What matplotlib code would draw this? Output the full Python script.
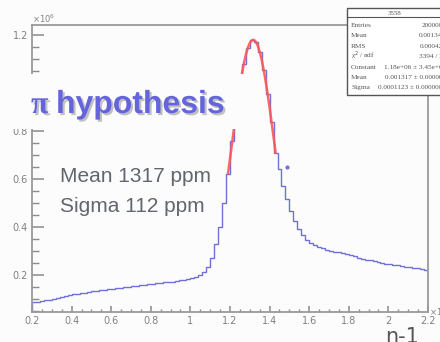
import numpy as np
import matplotlib
matplotlib.use("Agg")
import matplotlib.pyplot as plt
from matplotlib.patches import Rectangle
from matplotlib.lines import Line2D
import matplotlib.patheffects as pe

W, H = 440, 342

# histogram of n-1 (x in units of 1e-3, counts in units of 1e6), bin width 0.02
bin_lo, bin_hi = 0.2, 2.2
counts = [
    0.086, 0.089, 0.092, 0.095, 0.098, 0.101, 0.106, 0.110, 0.113, 0.116,
    0.119, 0.121, 0.124, 0.127, 0.130, 0.132, 0.135, 0.137, 0.139, 0.141,
    0.143, 0.145, 0.147, 0.149, 0.151, 0.153, 0.155, 0.157, 0.159, 0.161,
    0.163, 0.165, 0.167, 0.169, 0.171, 0.173, 0.175, 0.178, 0.181, 0.184,
    0.188, 0.193, 0.200, 0.212, 0.232, 0.270, 0.330, 0.400, 0.500, 0.620,
    0.760, 0.870, 0.985, 1.080, 1.145, 1.180, 1.172, 1.130, 1.056, 0.955,
    0.838, 0.710, 0.640, 0.570, 0.515, 0.465, 0.425, 0.390, 0.365, 0.348,
    0.335, 0.326, 0.318, 0.311, 0.306, 0.302, 0.298, 0.294, 0.290, 0.286,
    0.282, 0.278, 0.272, 0.268, 0.264, 0.261, 0.258, 0.254, 0.250, 0.247,
    0.244, 0.242, 0.240, 0.237, 0.235, 0.233, 0.231, 0.228, 0.225, 0.222,
]

# gaussian fit (from stats box)
fit_const = 1.18
fit_mean = 1.317
fit_sigma = 0.1123
fit_range = (1.19, 1.43)

stray_x, stray_y = [1.488], [0.65]

stat_title = "3558"
stat_names = ["Entries", "Mean", "RMS", "\u03c7$^2$ / ndf", "Constant", "Mean", "Sigma"]
stat_values = ["2000000", "0.001345", "0.000427", "3394 / 23",
               "1.18e+06 \u00b1 3.45e+03", "0.001317 \u00b1 0.000000",
               "0.0001123 \u00b1 0.0000000"]

BLUE = "#7070d8"
RED = "#ff5555"
GRAY = "#8a8a8a"


def fx(px):
    return px / W


def fy(py):
    return 1 - py / H


fig = plt.figure(figsize=(4.4, 3.42), dpi=100)
fig.patch.set_facecolor("#fcfcfc")
ax = fig.add_axes([fx(32), fy(312), fx(428) - fx(32), fy(25) - fy(312)])
ax.set_facecolor("#fcfcfc")

edges = np.linspace(bin_lo, bin_hi, len(counts) + 1)
ax.stairs(counts, edges, color=BLUE, linewidth=1.0)

xf = np.linspace(fit_range[0], fit_range[1], 200)
ax.plot(xf, fit_const * np.exp(-0.5 * ((xf - fit_mean) / fit_sigma) ** 2),
        color=RED, linewidth=1.8, alpha=0.9)
ax.plot(stray_x, stray_y, "o", color=BLUE, markersize=2)

ax.set_xlim(0.2, 2.2)
ax.set_ylim(0.046, 1.242)
ax.set_xticks(np.arange(0.2, 2.21, 0.2))
ax.set_xticklabels(["0.2", "0.4", "0.6", "0.8", "1", "1.2", "1.4", "1.6", "1.8", "2", "2.2"])
ax.set_xticks(np.arange(0.2, 2.21, 0.05), minor=True)
ax.set_yticks([0.2, 0.4, 0.6, 0.8, 1.0, 1.2])
ax.set_yticklabels(["0.2", "0.4", "0.6", "0.8", "1", "1.2"])
ax.set_yticks(np.arange(0.05, 1.24, 0.05), minor=True)
ax.tick_params(axis="x", which="major", direction="in", length=4.5, width=1.1,
               color=GRAY, labelcolor="#808080", labelsize=7, pad=3)
ax.tick_params(axis="x", which="minor", direction="in", length=2.3, width=1.0, color=GRAY)
ax.tick_params(axis="y", which="major", direction="in", length=8.5, width=1.1,
               color=GRAY, labelcolor="#808080", labelsize=7, pad=3)
ax.tick_params(axis="y", which="minor", direction="in", length=5, width=1.0, color=GRAY)
for s in ax.spines.values():
    s.set_color("#9a9a9a")
    s.set_linewidth(1.3)

fig.text(fx(32), fy(23), "\u00d710$^{6}$", fontsize=6, color="#808080", ha="left", va="baseline")
fig.text(fx(429), fy(316), "\u00d710$^{-3}$", fontsize=6, color="#808080", ha="left", va="baseline")
fig.text(fx(385), fy(343), "n-1", fontsize=15, color="#555555", ha="left", va="baseline")

# white cover behind the hypothesis label
fig.add_artist(Rectangle((fx(0), fy(129)), fx(245), fy(74) - fy(129),
                         transform=fig.transFigure, facecolor="#fcfcfc",
                         edgecolor="none", zorder=5))
shadow = [pe.withSimplePatchShadow(offset=(1.5, -1.5), shadow_rgbFace="#999999", alpha=0.6)]
fig.text(fx(31), fy(113), "\u03c0", fontsize=23, fontweight="bold",
         family="Liberation Serif", color="#6464dc", ha="left", va="baseline", zorder=6,
         path_effects=shadow)
fig.text(fx(56), fy(113), "hypothesis", fontsize=23, fontweight="bold",
         family="Liberation Sans", color="#6464dc", ha="left", va="baseline", zorder=6,
         path_effects=shadow)

fig.text(fx(60), fy(182), "Mean 1317 ppm", fontsize=15, family="Liberation Sans",
         color="#62666e", ha="left", va="baseline")
fig.text(fx(60), fy(212), "Sigma 112 ppm", fontsize=15, family="Liberation Sans",
         color="#62666e", ha="left", va="baseline")

# stats box
fig.add_artist(Rectangle((fx(347), fy(95)), fx(100), fy(8) - fy(95),
                         transform=fig.transFigure, facecolor="white",
                         edgecolor="#555555", linewidth=1.0, zorder=7))
fig.add_artist(Line2D([fx(347), fx(447)], [fy(17), fy(17)], transform=fig.transFigure,
                      color="#555555", linewidth=0.8, zorder=8))
fig.text(fx(395), fy(15), stat_title, fontsize=5, family="Liberation Serif",
         color="#555555", ha="center", va="baseline", zorder=8)
for i, (n, v) in enumerate(zip(stat_names, stat_values)):
    yb = 27 + i * 10.4
    fig.text(fx(351), fy(yb), n, fontsize=5.2, family="Liberation Serif",
             color="#555555", ha="left", va="baseline", zorder=8)
    fig.text(fx(446), fy(yb), v, fontsize=5.2, family="Liberation Serif",
             color="#555555", ha="right", va="baseline", zorder=8)

fig.savefig("out.png", dpi=100)
